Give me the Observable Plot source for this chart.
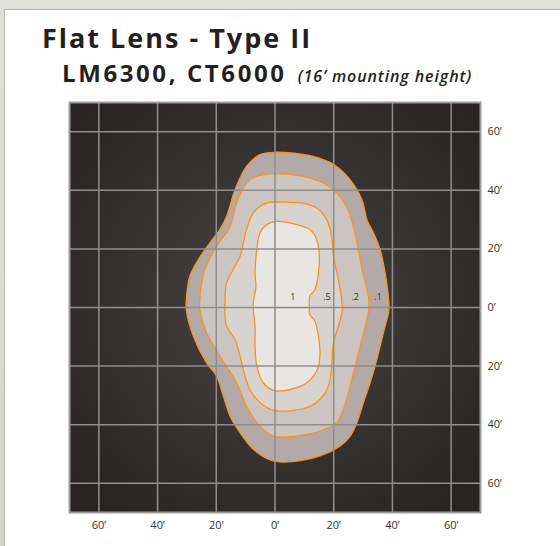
<!DOCTYPE html>
<html>
<head>
<meta charset="utf-8">
<script src="https://cdn.jsdelivr.net/npm/d3@7"></script>
<script src="https://cdn.jsdelivr.net/npm/@observablehq/plot@0.6"></script>
<style>
  html, body { margin: 0; padding: 0; width: 560px; height: 546px; overflow: hidden; }
  body { background: linear-gradient(#dfe1dc, #d3d5cf); position: relative; font-family: "Open Sans", sans-serif; }
  #card { position: absolute; left: 4px; top: 9px; right: 0; bottom: 0; background: #fff;
          border-left: 1px solid #b9bab6; border-top: 1px solid #b3b4b0; }
  #title { position: absolute; left: 42px; top: 24px; font-size: 27px; font-weight: 700; color: #231f20; letter-spacing: 2px; white-space: nowrap; line-height: 1; }
  #subtitle { position: absolute; left: 62px; top: 60.5px; font-size: 24px; font-weight: 700; color: #231f20; letter-spacing: 2.6px; white-space: nowrap; line-height: 1; }
  #subtitle i { font-size: 16px; font-weight: 600; margin-left: 11px; letter-spacing: 0.9px; }
  #chart { position: absolute; left: 0; top: 92px; }
</style>
</head>
<body>
<div id="card"></div>
<div id="title">Flat Lens - Type II</div>
<div id="subtitle">LM6300, CT6000<i>(16’ mounting height)</i></div>
<div id="chart"></div>
<script>
// Grid ticks (feet)
const ticks = [-60, -40, -20, 0, 20, 40, 60];

// Iso-footcandle contours, [x ft, y ft]
const contour01 = [[0,53],[13,51.6],[20,48.8],[25.6,43.6],[29.6,36.8],[31.3,30],[33.5,25.5],[35.8,19.8],[37.5,11.8],[38.6,3.9],[38.8,-1],[37.5,-6.4],[35.8,-13.2],[34.1,-20],[32.4,-25.7],[30.1,-32.5],[27.9,-39.3],[25.6,-43.9],[22.2,-47.3],[15.3,-50.7],[6.2,-52.6],[-0.6,-52.4],[-7.4,-48.4],[-11.9,-42.7],[-15.3,-37.1],[-17.6,-30.2],[-19.9,-23.4],[-23.3,-18.9],[-27.8,-9.8],[-30.2,-0.7],[-30.1,3.9],[-29,10.7],[-26.1,16.4],[-22.2,22],[-18.8,26.6],[-16.5,31.1],[-13.6,40.2],[-9.7,48.2],[-5.1,52.2]];
const contour02 = [[0,45.6],[9.6,44.8],[16.5,42.5],[21,39.1],[24.4,34.5],[26.7,27.7],[28.4,19.8],[29.9,11.8],[31.8,3.9],[32,-0.5],[31.3,-4.1],[29.6,-10.9],[27.9,-17.7],[25.6,-26.8],[23.3,-34.8],[21,-39.3],[15.3,-42.2],[7.4,-43.9],[-0.6,-43.9],[-6.2,-39.3],[-9.7,-33.7],[-13.1,-25.7],[-18.8,-16.6],[-23.3,-8.6],[-25.6,-0.7],[-25.3,6.1],[-23.9,13],[-19.9,20.9],[-15.3,27.7],[-13.1,35.7],[-9.7,42.5],[-6.2,44.8]];
const contour05 = [[1.7,36],[8.5,35.7],[14.2,34],[17.6,30],[19.3,24.3],[19.9,17.5],[21.6,9.5],[22.7,2.7],[22.9,-1],[21.6,-6.4],[19.9,-12],[19.3,-20],[18.2,-26.8],[15.3,-31.4],[10.8,-34.2],[0.6,-35.3],[-2.8,-34.2],[-8,-29.1],[-10.2,-23.4],[-11.9,-16.6],[-13.6,-10.9],[-16.5,-6.4],[-17.1,-1.8],[-17,2.7],[-16.5,8.4],[-14.2,13],[-11.9,17.5],[-9.7,26.6],[-7.4,32.3],[-2.8,35.7]];
const contour1 = [[0.6,29.4],[7.4,28.3],[11.9,26.6],[14.2,23.2],[15.1,17.5],[14.8,11.8],[13.6,6.1],[11.9,3.9],[11.7,0],[11.9,-2.4],[13.6,-4.7],[14.8,-9.8],[15.3,-16.6],[14.2,-21.7],[10.8,-25.7],[5.1,-28],[-0.6,-28.3],[-4,-25.7],[-6.2,-20],[-6.8,-13.2],[-6.8,-6.4],[-7.4,-0.7],[-7.4,1.6],[-6.5,7.3],[-6.8,11.8],[-6.2,19.8],[-5.1,25.5],[-2.8,28.3]];

// Contour labels
const labelText = ["1", ".5", ".2", ".1"];
const labelX = [6.1, 17.7, 27.3, 35.1];
const labelY = [3.4, 3.4, 3.4, 3.4];

const fills = ["#b3aaa7", "#cbc4c1", "#d9d3d0", "#e9e5e2"];
const contours = [contour01, contour02, contour05, contour1];

const fmt = d => Math.abs(d) + "’";

const plot = Plot.plot({
  width: 560,
  height: 454,
  marginLeft: 69,
  marginRight: 80,
  marginTop: 10,
  marginBottom: 34,
  style: { fontFamily: "Open Sans, sans-serif", fontSize: "11px", color: "#333", background: "transparent", overflow: "visible" },
  x: { domain: [-70, 70], ticks, tickFormat: fmt, label: null },
  y: { domain: [-70, 70], ticks, tickFormat: fmt, label: null },
  marks: [
    Plot.frame({ fill: "url(#bgGrad)", stroke: "none" }),
    ...contours.map((c, i) => Plot.line(c, {
      x: d => d[0], y: d => d[1],
      curve: "catmull-rom-closed",
      fill: fills[i], stroke: "#f7941d", strokeWidth: 1.3
    })),
    Plot.gridX(ticks, { stroke: "#8e8e8e", strokeOpacity: 1, strokeWidth: 1.5 }),
    Plot.gridY(ticks, { stroke: "#8e8e8e", strokeOpacity: 1, strokeWidth: 1.5 }),
    Plot.axisX(ticks, { anchor: "bottom", tickSize: 0, tickPadding: 9, tickFormat: fmt, fill: "#333" }),
    Plot.axisY(ticks, { anchor: "right", tickSize: 0, tickPadding: 7, tickFormat: fmt, fill: "#333" }),
    Plot.text(labelText, { x: (d, i) => labelX[i], y: (d, i) => labelY[i], text: d => d, fontSize: 9, fill: "#333", textAnchor: "middle" }),
    Plot.frame({ stroke: "#9c9c9c", strokeWidth: 2 })
  ]
});

const defs = d3.select(plot).insert("defs", ":first-child");
const g = defs.append("radialGradient").attr("id", "bgGrad").attr("cx", "50%").attr("cy", "48%").attr("r", "68%");
g.append("stop").attr("offset", "0%").attr("stop-color", "#4c4747");
g.append("stop").attr("offset", "55%").attr("stop-color", "#363131");
g.append("stop").attr("offset", "100%").attr("stop-color", "#272323");

document.getElementById("chart").appendChild(plot);
</script>
</body>
</html>
